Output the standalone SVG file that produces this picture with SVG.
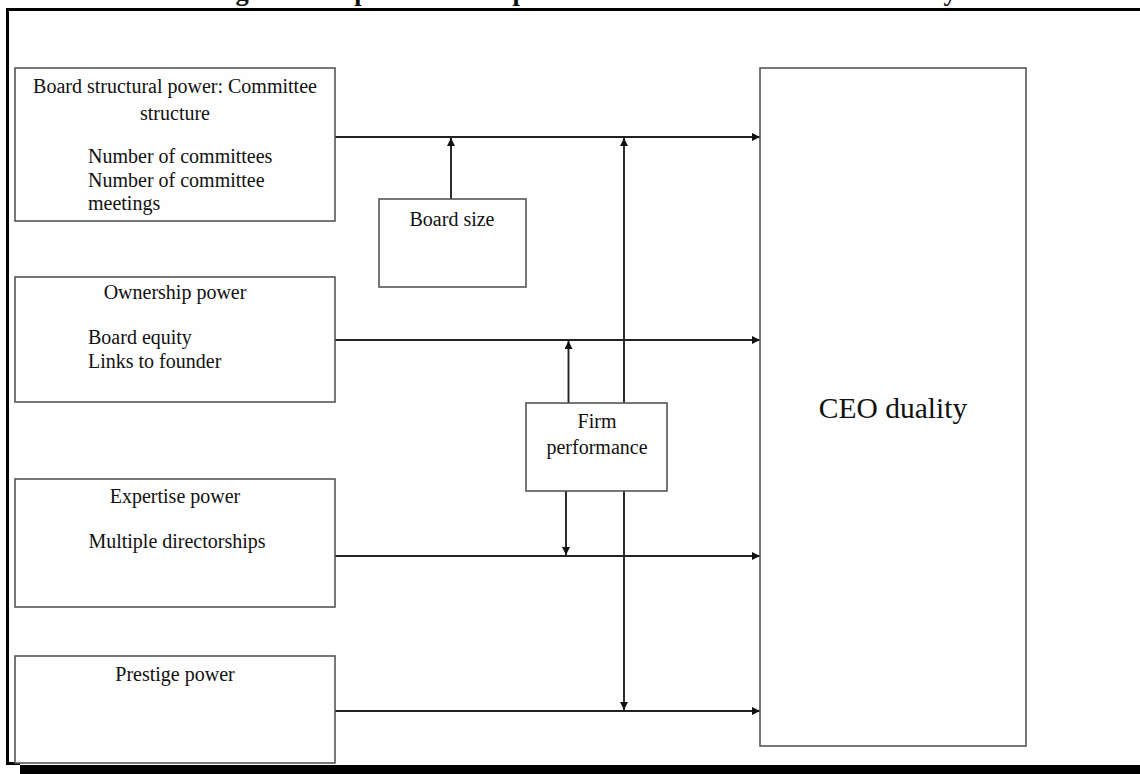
<svg xmlns="http://www.w3.org/2000/svg" width="1140" height="774" viewBox="0 0 1140 774">
<style>
.box{fill:#fefefe;stroke:#555;stroke-width:1.6}
.t{font-family:"Liberation Serif","Times New Roman",serif;font-size:20px;fill:#111}
.c{text-anchor:middle}
.ln{stroke:#222;stroke-width:1.9;fill:none}
.title{font-family:"Liberation Serif","Times New Roman",serif;font-size:26.5px;font-weight:bold;fill:#111}
</style>
<defs>
<marker id="ah" viewBox="0 0 10 10" refX="10" refY="5" markerWidth="10" markerHeight="8" markerUnits="userSpaceOnUse" orient="auto">
<path d="M0,0 L10,5 L0,10 z" fill="#111"/>
</marker>
</defs>
<rect width="1140" height="774" fill="#ffffff"/>
<text class="title" x="212" y="-0.5">Figure 1: Impact of board power on the likelihood of CEO duality</text>
<g id="frame">
<rect x="6" y="8" width="1134" height="3" fill="#000"/>
<rect x="6" y="8" width="3" height="757" fill="#000"/>
<rect x="6" y="762" width="14" height="3" fill="#000"/>
<rect x="20" y="765" width="1120" height="9" fill="#000"/>
</g>
<g id="connectors">
<line class="ln" x1="335" y1="137" x2="760" y2="137" marker-end="url(#ah)"/>
<line class="ln" x1="335" y1="340" x2="760" y2="340" marker-end="url(#ah)"/>
<line class="ln" x1="335" y1="556" x2="760" y2="556" marker-end="url(#ah)"/>
<line class="ln" x1="335" y1="711" x2="760" y2="711" marker-end="url(#ah)"/>
<line class="ln" x1="451" y1="199" x2="451" y2="138" marker-end="url(#ah)"/>
<line class="ln" x1="624" y1="403" x2="624" y2="138" marker-end="url(#ah)"/>
<line class="ln" x1="624" y1="491" x2="624" y2="710" marker-end="url(#ah)"/>
<line class="ln" x1="568.5" y1="403" x2="568.5" y2="341" marker-end="url(#ah)"/>
<line class="ln" x1="566" y1="491" x2="566" y2="555" marker-end="url(#ah)"/>
</g>
<g id="board-structural">
<rect class="box" x="15" y="68" width="320" height="153"/>
<text class="t c" x="175" y="93">Board structural power: Committee</text>
<text class="t c" x="175" y="120">structure</text>
<text class="t" x="88" y="163">Number of committees</text>
<text class="t" x="88" y="187">Number of committee</text>
<text class="t" x="88" y="210">meetings</text>
</g>
<g id="board-size">
<rect class="box" x="379" y="199" width="147" height="88"/>
<text class="t c" x="452" y="226">Board size</text>
</g>
<g id="ownership">
<rect class="box" x="15" y="277" width="320" height="125"/>
<text class="t c" x="175" y="299">Ownership power</text>
<text class="t" x="88" y="344">Board equity</text>
<text class="t" x="88" y="368">Links to founder</text>
</g>
<g id="firm-performance">
<rect class="box" x="526" y="403" width="141" height="88"/>
<text class="t c" x="597" y="428">Firm</text>
<text class="t c" x="597" y="454">performance</text>
</g>
<g id="expertise">
<rect class="box" x="15" y="479" width="320" height="128"/>
<text class="t c" x="175" y="503">Expertise power</text>
<text class="t c" x="177" y="548">Multiple directorships</text>
</g>
<g id="prestige">
<rect class="box" x="15" y="656" width="320" height="107"/>
<text class="t c" x="175" y="681">Prestige power</text>
</g>
<g id="ceo-duality">
<rect class="box" x="760" y="68" width="266" height="678"/>
<text class="t c" x="893" y="418" style="font-size:29.5px">CEO duality</text>
</g>
</svg>
